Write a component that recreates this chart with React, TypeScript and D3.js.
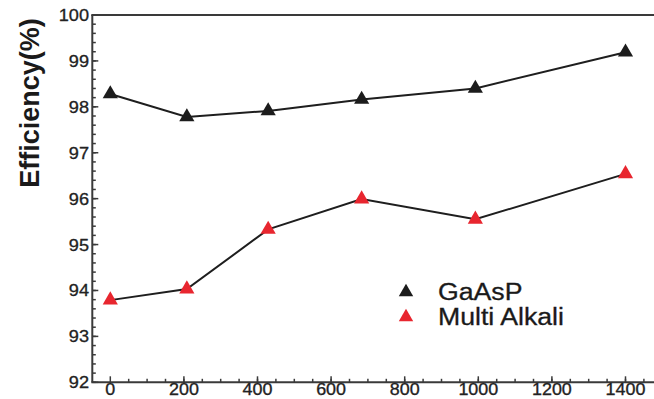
import React from "react";
import * as d3 from "d3";

const xValues = [0, 208, 429, 683, 992, 1400];
const gaaspValues = [98.28, 97.78, 97.91, 98.16, 98.4, 99.19];
const multiAlkaliValues = [93.79, 94.03, 95.33, 95.99, 95.55, 96.54];
const yTickValues = [92, 93, 94, 95, 96, 97, 98, 99, 100];
const xTickValues = [0, 200, 400, 600, 800, 1000, 1200, 1400];
const seriesNames = ["GaAsP", "Multi Alkali"];
const seriesColors = ["#1c1c1c", "#e8262f"];

const W = 654;
const H = 399;
const left = 92.3;
const top = 15;
const bottom = 382.3;

export default function App() {
  const x = d3.scaleLinear().domain([0, 1400]).range([110.3, 625.5]);
  const y = d3.scaleLinear().domain([92, 100]).range([bottom, top]);
  const line = d3
    .line<number>()
    .x((_, i) => x(xValues[i]))
    .y((d) => y(d));
  const tri = d3.symbol().type(d3.symbolTriangle).size(100)() as string;
  const triLegend = d3.symbol().type(d3.symbolTriangle).size(90)() as string;
  const yMinor = d3.range(92, 100.001, 0.2);
  const xMinor = d3.range(50, 1451, 50);
  const axisColor = "#3a3a3a";
  const font = "'Liberation Sans', Arial, Helvetica, sans-serif";
  const series = [gaaspValues, multiAlkaliValues];

  return (
    <svg
      width={W}
      height={H}
      style={{ position: "absolute", left: 0, top: 0, background: "#fff" }}
      fontFamily={font}
    >
      {/* frame */}
      <line x1={left} x2={left} y1={top} y2={bottom} stroke={axisColor} strokeWidth={2} />
      <line x1={left - 1} x2={W} y1={bottom} y2={bottom} stroke={axisColor} strokeWidth={2} />
      <line x1={left - 1} x2={W} y1={top} y2={top} stroke={axisColor} strokeWidth={2} />

      {/* y minor ticks */}
      {yMinor.map((v, i) => (
        <line key={"ym" + i} x1={left} x2={left + 3.5} y1={y(v)} y2={y(v)} stroke={axisColor} strokeWidth={1.5} />
      ))}
      {/* y major ticks + labels */}
      {yTickValues.map((v) => (
        <g key={"y" + v}>
          <line x1={left} x2={left + 6} y1={y(v)} y2={y(v)} stroke={axisColor} strokeWidth={1.5} />
          <text
            transform={`translate(89,${y(v) + 6}) scale(1.1,1)`}
            textAnchor="end"
            fontSize={16.5}
            fill="#222"
            stroke="#222"
            strokeWidth={0.3}
          >
            {v}
          </text>
        </g>
      ))}

      {/* x minor ticks */}
      {xMinor.map((v) => (
        <line key={"xm" + v} x1={x(v)} x2={x(v)} y1={bottom} y2={bottom - 3.5} stroke={axisColor} strokeWidth={1.5} />
      ))}
      {xTickValues.map((v) => (
        <g key={"x" + v}>
          <line x1={x(v)} x2={x(v)} y1={bottom} y2={bottom - 6} stroke={axisColor} strokeWidth={1.5} />
          <text
            transform={`translate(${x(v)},${395}) scale(1.12,1)`}
            textAnchor="middle"
            fontSize={16}
            fill="#222"
            stroke="#222"
            strokeWidth={0.3}
          >
            {v}
          </text>
        </g>
      ))}

      {/* y axis title */}
      <text
        transform={`translate(39,103) rotate(-90)`}
        textAnchor="middle"
        fontSize={27}
        fontWeight="bold"
        fill="#1a1a1a"
      >
        Efficiency(%)
      </text>

      {/* lines */}
      {series.map((s, si) => (
        <path key={"l" + si} d={line(s) as string} fill="none" stroke="#1e1e1e" strokeWidth={2} />
      ))}
      {/* markers */}
      {series.map((s, si) =>
        s.map((v, i) => (
          <path
            key={"m" + si + "-" + i}
            d={tri}
            transform={`translate(${x(xValues[i])},${y(v)})`}
            fill={seriesColors[si]}
          />
        ))
      )}

      {/* legend */}
      {seriesNames.map((n, i) => (
        <g key={"lg" + i} transform={`translate(406,${292 + i * 25})`}>
          <path d={triLegend} fill={seriesColors[i]} />
          <text
            transform={`translate(32,7.5) scale(1.16,1)`}
            fontSize={23}
            fill="#1a1a1a"
            stroke="#1a1a1a"
            strokeWidth={0.3}
          >
            {n}
          </text>
        </g>
      ))}
    </svg>
  );
}
